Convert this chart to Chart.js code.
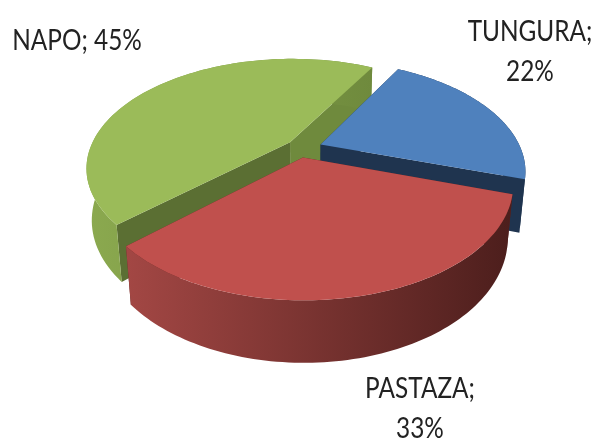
<!DOCTYPE html>
<html>
<head>
<meta charset="utf-8">
<style>
  html, body { margin: 0; padding: 0; background: #ffffff; }
  canvas { display: block; }
</style>
<script src="https://cdn.jsdelivr.net/npm/chart.js@4"></script>
</head>
<body>
<canvas id="pieChart" width="596" height="439"></canvas>
<script>
const categories = ['TUNGURA', 'PASTAZA', 'NAPO'];
const shares = [22, 33, 45];
const explode = [18, 18, 18];
// ajuste lateral de cada porcion, en px
const nudge = [0, -5, 0];

const topColors = ['#4F81BD', '#C0504D', '#9BBB59'];
// pared del corte inicial, pared del corte final, borde (gradiente izq -> der)
const startWall = ['#1F344F', '#5a2523', '#5B6F33'];
const endWall = ['#1F344F', '#5a2523', '#6F8A3D'];
const rimStops = [
  ['#1F344F', '#1F344F'],
  ['#A34744', '#4C1E1C'],
  ['#8BA94F', '#6F8A3D']
];
// orden de pintado: de atras hacia adelante
const paintOrder = [2, 0, 1];

const labelLines = [
  [categories[0] + ';', shares[0] + '%'],
  [categories[1] + ';', shares[1] + '%'],
  [categories[2] + '; ' + shares[2] + '%']
];
const labelAnchors = [[530, 41], [420, 398], [77, 50]];
const labelLineGap = 40;

// proyeccion en perspectiva del plano de la torta
const view = { cx: 304, cy: 148, radius: 200, squash: 0.525, persp: 0.23, lift: 0.024, depth: 52 };

function project(u, v, z, dx) {
  const w = 1 - view.persp * v + view.lift * z;
  return {
    x: view.cx + dx + view.radius * u / w,
    y: view.cy + (view.radius * view.squash * v + view.depth * z) / w
  };
}

function tracePolygon(ctx, points) {
  ctx.beginPath();
  points.forEach((p, i) => (i === 0 ? ctx.moveTo(p.x, p.y) : ctx.lineTo(p.x, p.y)));
  ctx.closePath();
}

function drawSlice(ctx, arc, i) {
  const { startAngle, endAngle, outerRadius } = arc.getProps(['startAngle', 'endAngle', 'outerRadius'], true);
  const mid = (startAngle + endAngle) / 2;
  const e = arc.options.offset / outerRadius;
  const ou = e * Math.cos(mid);
  const ov = e * Math.sin(mid);
  const dx = nudge[i];

  const top = [];
  const bottom = [];
  const steps = 90;
  for (let s = 0; s <= steps; s++) {
    const a = startAngle + (endAngle - startAngle) * s / steps;
    top.push(project(ou + Math.cos(a), ov + Math.sin(a), 0, dx));
    bottom.push(project(ou + Math.cos(a), ov + Math.sin(a), 1, dx));
  }
  const tipTop = project(ou, ov, 0, dx);
  const tipBottom = project(ou, ov, 1, dx);

  // paredes radiales
  tracePolygon(ctx, [tipTop, top[steps], bottom[steps], tipBottom]);
  ctx.fillStyle = endWall[i];
  ctx.fill();
  tracePolygon(ctx, [tipTop, top[0], bottom[0], tipBottom]);
  ctx.fillStyle = startWall[i];
  ctx.fill();

  // borde exterior
  const xs = top.map(p => p.x);
  const grad = ctx.createLinearGradient(Math.min(...xs), 0, Math.max(...xs), 0);
  grad.addColorStop(0, rimStops[i][0]);
  grad.addColorStop(1, rimStops[i][1]);
  tracePolygon(ctx, top.concat(bottom.slice().reverse()));
  ctx.fillStyle = grad;
  ctx.fill();

  // cara superior
  tracePolygon(ctx, [tipTop].concat(top));
  ctx.fillStyle = topColors[i];
  ctx.fill();
}

const pie3dPlugin = {
  id: 'pie3d',
  beforeDatasetsDraw(chart) {
    const arcs = chart.getDatasetMeta(0).data;
    paintOrder.forEach(i => drawSlice(chart.ctx, arcs[i], i));
    return false;
  },
  afterDraw(chart) {
    const ctx = chart.ctx;
    ctx.save();
    ctx.fillStyle = '#222222';
    ctx.font = '28px Lato';
    ctx.textAlign = 'center';
    ctx.textBaseline = 'alphabetic';
    labelLines.forEach((lines, i) => {
      lines.forEach((line, n) => {
        ctx.save();
        ctx.translate(labelAnchors[i][0], labelAnchors[i][1] + n * labelLineGap);
        ctx.scale(0.87, 1);
        ctx.fillText(line, 0, 0);
        ctx.restore();
      });
    });
    ctx.restore();
  }
};

new Chart(document.getElementById('pieChart').getContext('2d'), {
  type: 'pie',
  data: {
    labels: categories,
    datasets: [{
      data: shares,
      backgroundColor: topColors,
      offset: explode,
      borderWidth: 0
    }]
  },
  options: {
    responsive: false,
    animation: false,
    rotation: 29,
    layout: { padding: 10 },
    plugins: {
      legend: { display: false },
      tooltip: { enabled: false }
    }
  },
  plugins: [pie3dPlugin]
});
</script>
</body>
</html>
